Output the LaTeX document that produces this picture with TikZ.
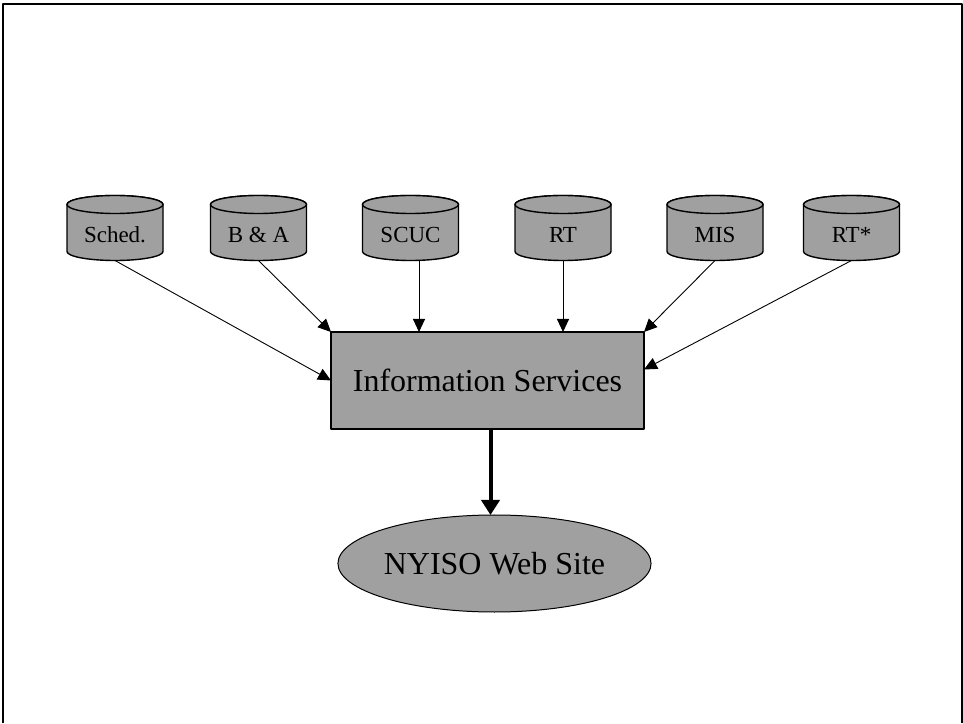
\documentclass[tikz,border=0pt]{standalone}
\usepackage{fontspec}
\setmainfont{Liberation Serif}
\usetikzlibrary{arrows.meta, shapes.geometric}
\definecolor{boxgray}{RGB}{160,160,160}

\begin{document}
\begin{tikzpicture}[x=1pt, y=1pt, >={Triangle[length=13pt,width=12pt]},
	line join=round,
	dbline/.style={draw, line width=1.4pt, fill=boxgray},
	dbtext/.style={minimum width=96pt, minimum height=65pt, inner sep=0pt, outer sep=0pt,
		text height=33pt, text depth=4pt, font=\fontsize{23}{27}\selectfont},
	feed/.style={->, line width=0.9pt},
	font=\fontsize{32}{38}\selectfont]
	
	% ===============================
	% frame of the page (open at the bottom)
	% ===============================
	\useasboundingbox (0,0) rectangle (963,723);
	\draw[line width=2pt] (3,0) -- (3,719) -- (962,719) -- (962,0);
	
	% ---- top row: data sources (drawn as cylinders) ----
	\foreach \nm/\xx/\lbl in {sched/115/Sched., ba/258.5/B \& A, scuc/410.5/SCUC,
		rt/563/RT, mis/715/MIS, rtx/851.5/RT*}{
		\draw[dbline] (\xx-48,518.5) -- (\xx-48,471.5)
			arc[start angle=180, end angle=360, x radius=48, y radius=9]
			-- (\xx+48,518.5)
			arc[start angle=0, end angle=180, x radius=48, y radius=9] -- cycle;
		\draw[dbline] (\xx,518.5) ellipse[x radius=48, y radius=9];
		\node[dbtext] (\nm) at (\xx,495) {\lbl};
	}
	
	% ---- middle: information services ----
	\node[draw, line width=1.6pt, fill=boxgray, minimum width=313pt, minimum height=97pt,
		inner sep=0pt, outer sep=0pt] (info) at (487.5,342.5) {Information Services};
	
	% ---- bottom: web site ----
	\node[ellipse, draw, line width=1pt, fill=boxgray, minimum width=297pt, minimum height=97pt,
		inner sep=0pt, outer sep=0pt] (web) at (494.5,159.5) {NYISO Web Site};
	
	% ---- feeds into information services ----
	\draw[feed] (sched.south) -- (info.west);
	\draw[feed] (ba.south) -- (info.north west);
	\draw[feed] ([xshift=8.5pt]scuc.south) -- ([xshift=8.5pt]scuc.south |- info.north);
	\draw[feed] (rt.south) -- (rt.south |- info.north);
	\draw[feed] (mis.south) -- (info.north east);
	\draw[feed] (rtx.south) -- ([yshift=11pt]info.east);
	
	% ---- publication ----
	\draw[->, line width=4pt, >={Triangle[length=15pt,width=18pt]}]
		([xshift=3pt]info.south) -- ([xshift=3pt]info.south |- web.north);
	
\end{tikzpicture}
\end{document}
